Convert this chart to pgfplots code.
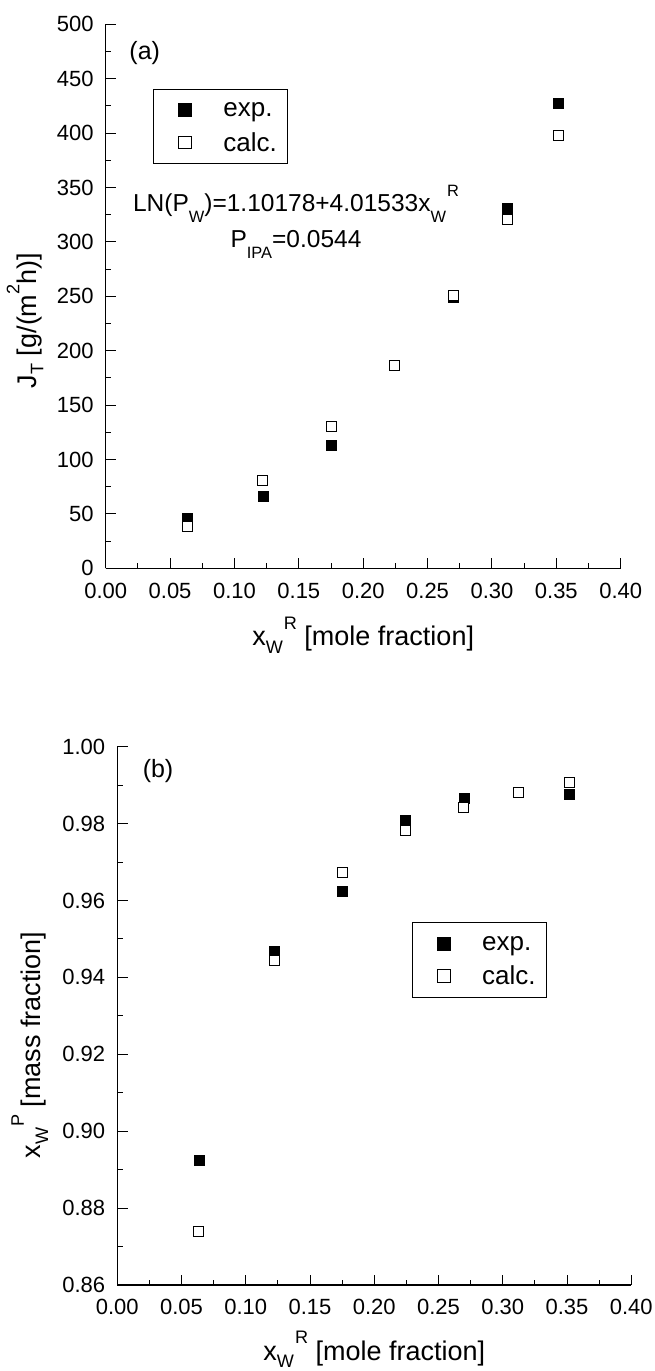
\documentclass[border=0pt]{standalone}
\usepackage{fontspec}
\setmainfont{Liberation Sans}
\usepackage{graphicx}
\usepackage{pgfplots}
\pgfplotsset{compat=1.18}
\newcommand{\sub}[1]{\raisebox{-0.45em}{\scalebox{0.67}{#1}}}
\newcommand{\lsub}[1]{\raisebox{-0.27em}{\scalebox{0.67}{#1}}}
\newcommand{\supr}[1]{\raisebox{0.62em}{\scalebox{0.67}{#1}}}
\newcommand{\fs}[1]{\fontsize{#1}{#1}\selectfont}

\pgfplotstableread{
x y
0.0635 46.5
0.122 66.7
0.175 113
0.2243 186.3
0.2698 248.8
0.312 331
0.3517 427.5
}\aexp
\pgfplotstableread{
x y
0.0635 38
0.122 80.6
0.175 130.6
0.2243 186.8
0.2698 250.8
0.312 320.5
0.3517 398
}\acalc
\pgfplotstableread{
x y
0.0635 0.8924
0.122 0.9469
0.175 0.9624
0.2243 0.9810
0.2698 0.9865
0.312 0.9882
0.3517 0.9876
}\bexp
\pgfplotstableread{
x y
0.0635 0.8738
0.122 0.9443
0.175 0.9672
0.2243 0.9782
0.2698 0.9842
0.312 0.9882
0.3517 0.9908
}\bcalc

\pgfplotsset{
  mystyle/.style={
    scale only axis,
    axis x line=bottom, axis y line=left,
    axis line style={-, line width=1.2pt, black},
    tick align=inside,
    major tick length=10.5pt, minor tick length=5.5pt,
    every tick/.style={black, line width=1pt},
    minor x tick num=1, minor y tick num=1,
    xmin=0, xmax=0.4,
    xtick={0,0.05,0.1,0.15,0.2,0.25,0.3,0.35,0.4},
    tick label style={font=\fs{22}, inner sep=0pt},
    /pgf/number format/assume math mode=true,
    yticklabel style={anchor=east, xshift=-12pt},
    label style={font=\fs{27}},
    legend cell align=left,
    legend style={draw=black, line width=1pt, inner xsep=0pt, inner ysep=4.8pt,
      font=\fs{26}, row sep=0pt, nodes={inner sep=0pt},
      /tikz/every even column/.style={column sep=0pt}},
    legend image code/.code={\path[draw=none,fill=none] (-31pt,-16.2pt) rectangle (38.4pt,16.2pt);
      \draw[##1,mark size=6.3pt] plot coordinates {(0pt,0pt)};},
  },
  expstyle/.style={only marks, mark=square*, mark size=5pt, black, mark options={fill=black}},
  calcstyle/.style={only marks, mark=square*, mark size=5pt, black, mark options={fill=white, draw=black, line width=1pt}},
}

\begin{document}
\begin{tikzpicture}
\useasboundingbox (0,0) rectangle (654pt,-1371pt);
% (a)
\begin{axis}[mystyle,
  at={(105.7pt,-568.3pt)}, anchor=south west, width=515pt, height=544pt,
  ymin=0, ymax=500, ytick={0,50,100,150,200,250,300,350,400,450,500},
  xticklabel style={anchor=north, yshift=-15pt, /pgf/number format/.cd, fixed, fixed zerofill, precision=2},
  xlabel={x\lsub{W}\kern1pt\supr{R} [mole fraction]},
  ylabel={J\lsub{T} [g/(m\supr{2}h)]},
  xlabel style={at={(axis description cs:0.5,-0.1428)}, anchor=base},
  ylabel style={at={(axis description cs:-0.1353,0.4555)}, anchor=base},
  legend style={at={(rel axis cs:0.0928,0.8818)}, anchor=north west},
]
\addplot[expstyle] table[x=x,y=y] {\aexp};
\addlegendentry{exp.}
\addplot[calcstyle] table[x=x,y=y] {\acalc};
\addlegendentry{calc.\hspace*{10.5pt}}
\node[anchor=base, font=\fs{25}] at (axis cs:0.0303,467.2) {(a)};
\node[anchor=base, font=\fs{24.5}] at (axis cs:0.1478,327.8) {LN(P\sub{W})=1.10178+4.01533x\sub{W}\kern1pt\supr{R}};
\node[anchor=base, font=\fs{24.5}] at (axis cs:0.1478,295.3) {P\sub{IPA}=0.0544};
\end{axis}
% (b)
\begin{axis}[mystyle,
  at={(117.3pt,-1285pt)}, anchor=south west, width=514pt, height=538.3pt,
  ymin=0.86, ymax=1.00, ytick={0.86,0.88,0.90,0.92,0.94,0.96,0.98,1.00},
  xticklabel style={anchor=north, yshift=-13.5pt, /pgf/number format/.cd, fixed, fixed zerofill, precision=2},
  yticklabel style={/pgf/number format/.cd, fixed, fixed zerofill, precision=2},
  xlabel={x\lsub{W}\kern1pt\supr{R} [mole fraction]},
  ylabel={x\lsub{W}\kern1pt\supr{P} [mass fraction]},
  xlabel style={at={(axis description cs:0.5,-0.1393)}, anchor=base},
  ylabel style={at={(axis description cs:-0.149,0.446)}, anchor=base},
  legend style={at={(rel axis cs:0.574,0.6738)}, anchor=north west},
]
\addplot[expstyle] table[x=x,y=y] {\bexp};
\addlegendentry{exp.}
\addplot[calcstyle] table[x=x,y=y] {\bcalc};
\addlegendentry{calc.\hspace*{10.5pt}}
\node[anchor=base, font=\fs{25}] at (axis cs:0.0317,0.99204) {(b)};
\end{axis}
\end{tikzpicture}
\end{document}
